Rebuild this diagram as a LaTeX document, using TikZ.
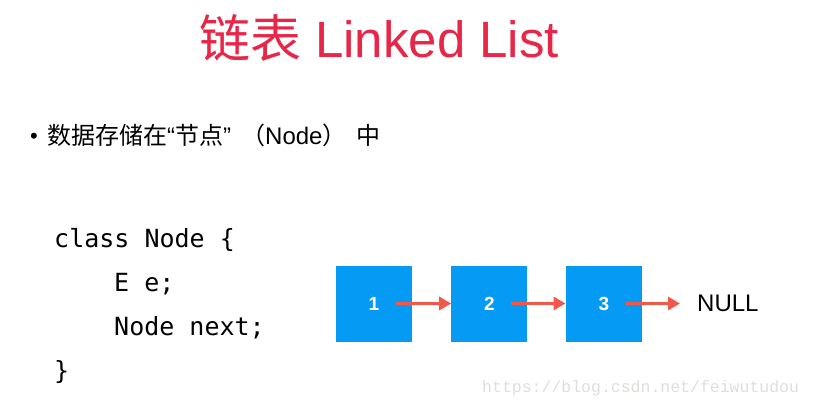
\documentclass[tikz,border=0pt]{standalone}
\usepackage{fontspec}
\setmainfont{Liberation Sans}
\setmonofont{DejaVu Sans Mono}
\newfontfamily\cjk{Noto Sans CJK SC}
\newfontfamily\wmfont{Liberation Mono}
\usetikzlibrary{arrows.meta,positioning}
\definecolor{titlered}{RGB}{232,38,72}
\definecolor{cellblue}{RGB}{5,155,245}
\definecolor{linkred}{RGB}{242,88,74}
\definecolor{wmgray}{RGB}{222,222,218}
\tikzset{
  cell/.style={draw=none, fill=cellblue, minimum size=76pt, inner sep=0pt,
               text=white, font=\bfseries\fontsize{19}{19}\selectfont},
  link/.style={draw=linkred, line width=3pt, -{Triangle[length=12pt,width=13pt]}},
  codeline/.style={anchor=base west, inner sep=0pt, font=\ttfamily\fontsize{25}{25}\selectfont}
}

\begin{document}
\begin{tikzpicture}[x=1pt,y=-1pt]

\useasboundingbox (0,0) rectangle (813,409);

\node (title) [text=titlered, font=\fontsize{51}{51}\selectfont] at (379,38) {{\cjk 链表} Linked List};

\node (dot) [font=\fontsize{22}{22}\selectfont] at (34,138) {•};
\node (intro) [anchor=west, inner sep=0pt, font=\fontsize{24}{24}\selectfont] at (47,135)
  {{\cjk 数据存储在}“{\cjk 节点}”\hspace{10pt}{\cjk （}Node{\cjk ）}\hspace{10pt}{\cjk 中}};

% class definition
\node (code1) [codeline] at (54,247) {class Node \{};
\node (code2) [codeline] at (114,291) {E e;};
\node (code3) [codeline] at (114,335) {Node next;};
\node (code4) [codeline] at (54,379) {\}};

% the list
\node (b1) [cell] at (374,303.5) {1};
\node (b2) [cell, right=39pt of b1] {2};
\node (b3) [cell, right=38pt of b2] {3};
\node (null) [anchor=west, inner sep=0pt, font=\fontsize{24}{24}\selectfont, right=55pt of b3] {NULL};

\coordinate (o1) at ([xshift=22pt]b1.center);
\coordinate (o2) at ([xshift=22pt]b2.center);
\coordinate (o3) at ([xshift=22pt]b3.center);

\draw[link] (o1) -- (b2.west);
\draw[link] (o2) -- (b3.west);
\draw[link] (o3) -- ([xshift=-17pt]null.west);

\node (mark) [anchor=west, inner sep=0pt, text=wmgray, font=\wmfont\fontsize{16.5}{16.5}\selectfont] at (482,388) {https://blog.csdn.net/feiwutudou};

\end{tikzpicture}
\end{document}
